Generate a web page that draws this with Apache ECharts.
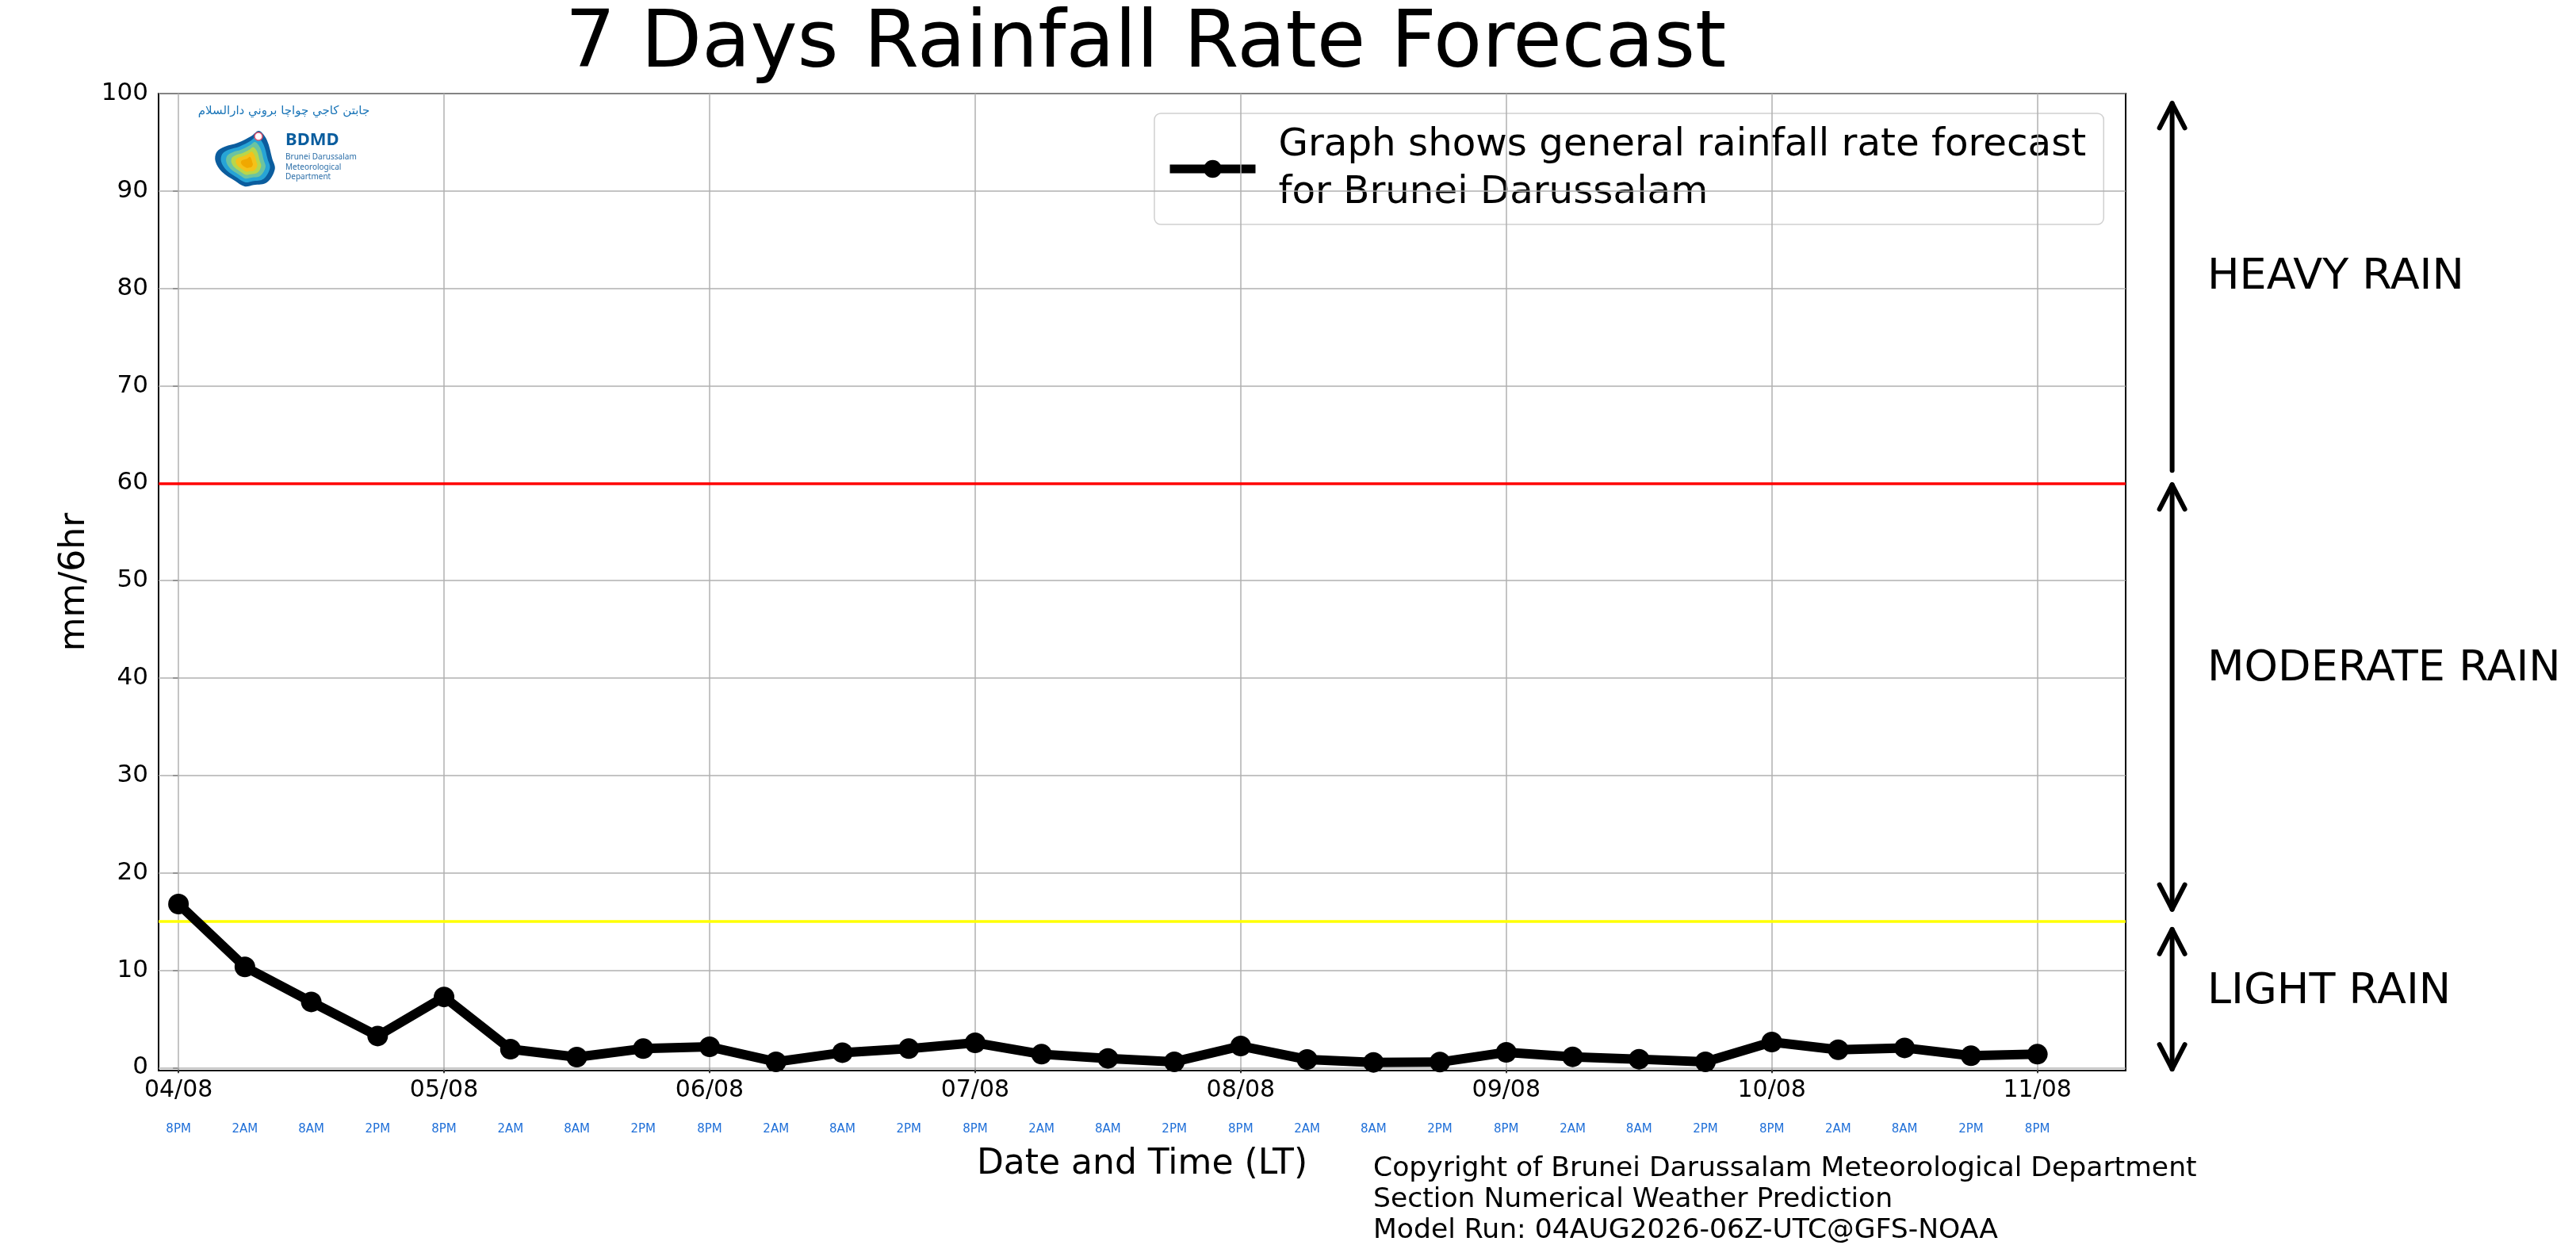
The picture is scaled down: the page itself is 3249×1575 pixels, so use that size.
<!DOCTYPE html>
<html>
<head>
<meta charset="utf-8">
<title>7 Days Rainfall Rate Forecast</title>
<script src="https://cdn.jsdelivr.net/npm/echarts@6/dist/echarts.min.js"></script>
<style>
  html, body { margin: 0; padding: 0; background: #fff; }
  #main { width: 3249px; height: 1575px; }
</style>
</head>
<body>
<div id="main"></div>
<script>
// 6-hourly steps, 04/08 8PM .. 11/08 8PM (local time)
var hourLabels = ['8PM', '2AM', '8AM', '2PM', '8PM', '2AM', '8AM', '2PM', '8PM', '2AM',
                  '8AM', '2PM', '8PM', '2AM', '8AM', '2PM', '8PM', '2AM', '8AM', '2PM',
                  '8PM', '2AM', '8AM', '2PM', '8PM', '2AM', '8AM', '2PM', '8PM'];
var dateLabels = ['04/08', '05/08', '06/08', '07/08', '08/08', '09/08', '10/08', '11/08'];
var dateSteps = [0, 4, 8, 12, 16, 20, 24, 28];
// mm/6hr
var rainfall = [16.8, 10.35, 6.75, 3.25, 7.26, 1.9, 1.08, 1.95, 2.14, 0.6,
                1.54, 1.95, 2.55, 1.38, 0.95, 0.6, 2.22, 0.84, 0.54, 0.57,
                1.57, 1.11, 0.87, 0.6, 2.63, 1.84, 2.03, 1.22, 1.38];
var yTicks = [0, 10, 20, 30, 40, 50, 60, 70, 80, 90, 100];
var lightLimit = 15;
var heavyLimit = 60;

var font = 'DejaVu Sans';
var seriesName = 'Graph shows general rainfall rate forecast\nfor Brunei Darussalam';

var chart = echarts.init(document.getElementById('main'));

var points = rainfall.map(function (v, i) { return [i, v]; });
var allSteps = hourLabels.map(function (h, i) { return i; });

var gridLines = yTicks.map(function (v) { return { yAxis: v }; })
    .concat(dateSteps.map(function (v) { return { xAxis: v }; }));

var option = {
    animation: false,
    backgroundColor: '#fff',
    title: {
        text: '7 Days Rainfall Rate Forecast',
        left: 1440,
        top: 3,
        textAlign: 'center',
        textStyle: { fontFamily: font, fontSize: 100, fontWeight: 'normal', color: '#000' }
    },
    legend: {
        data: [seriesName],
        left: 1456,
        top: 143,
        orient: 'vertical',
        itemWidth: 108,
        itemHeight: 28,
        padding: [10, 22, 10, 14],
        backgroundColor: 'rgba(255,255,255,0.8)',
        borderColor: '#d0d0d0',
        borderWidth: 1.5,
        borderRadius: 8,
        lineStyle: { width: 11, color: '#000' },
        itemStyle: { color: '#000' },
        textStyle: {
            fontFamily: font, fontSize: 48.3, lineHeight: 60, color: '#000',
            padding: [0, 0, 0, 24]
        }
    },
    grid: {
        left: 200, top: 118, right: 568, bottom: 225,
        show: true, borderColor: '#000', borderWidth: 2, backgroundColor: 'transparent'
    },
    xAxis: [{
        type: 'value',
        min: -0.3,
        max: 29.33,
        name: 'Date and Time (LT)',
        nameLocation: 'middle',
        nameGap: 97,
        nameTextStyle: { fontFamily: font, fontSize: 44, color: '#000' },
        axisLine: { show: false },
        axisTick: { show: true, customValues: dateSteps, length: 7, lineStyle: { color: '#000', width: 1.5 } },
        splitLine: { show: false },
        axisLabel: {
            customValues: dateSteps,
            margin: 10,
            fontFamily: font, fontSize: 30, color: '#000',
            formatter: function (v) { return dateLabels[dateSteps.indexOf(v)]; }
        }
    }, {
        type: 'value',
        min: -0.3,
        max: 29.33,
        position: 'bottom',
        axisLine: { show: false },
        axisTick: { show: false },
        splitLine: { show: false },
        axisLabel: {
            customValues: allSteps,
            margin: 67,
            fontFamily: font, fontSize: 15, color: '#1f6fd8',
            formatter: function (v) { return hourLabels[v]; }
        }
    }],
    yAxis: {
        type: 'value',
        min: -0.3,
        max: 100,
        name: 'mm/6hr',
        nameLocation: 'middle',
        nameGap: 78,
        nameTextStyle: { fontFamily: font, fontSize: 44, color: '#000' },
        axisLine: { show: false },
        axisTick: { show: true, customValues: yTicks, length: 7, lineStyle: { color: '#000', width: 1.5 } },
        splitLine: { show: false },
        axisLabel: {
            customValues: yTicks,
            margin: 13,
            fontFamily: font, fontSize: 31, color: '#000'
        }
    },
    series: [{
        name: 'grid',
        type: 'line',
        data: [],
        z: 1,
        silent: true,
        markLine: {
            silent: true,
            symbol: ['none', 'none'],
            label: { show: false },
            emphasis: { disabled: true },
            lineStyle: { color: '#b0b0b0', width: 1.5, type: 'solid' },
            data: gridLines
        }
    }, {
        name: 'limits',
        type: 'line',
        data: [],
        z: 2,
        silent: true,
        markLine: {
            silent: true,
            symbol: ['none', 'none'],
            label: { show: false },
            emphasis: { disabled: true },
            lineStyle: { width: 3.5, type: 'solid' },
            data: [
                { yAxis: heavyLimit, lineStyle: { color: '#ff0000' } },
                { yAxis: lightLimit, lineStyle: { color: '#ffff00' } }
            ]
        }
    }, {
        name: seriesName,
        type: 'line',
        data: points,
        z: 5,
        symbol: 'circle',
        symbolSize: 26,
        showAllSymbol: true,
        lineStyle: { color: '#000', width: 12 },
        itemStyle: { color: '#000' }
    }]
};

chart.setOption(option);

// rain class annotations to the right of the axes
var zoneNames = ['HEAVY RAIN', 'MODERATE RAIN', 'LIGHT RAIN'];
var zoneTextY = [81.1, 40.9, 7.8];
// [tip top, tip bottom, head at top, head at bottom]
var zoneArrows = [[99, 61.3, true, false], [59.85, 16.25, true, true], [14.2, -0.15, true, true]];
var arrowX = 30.03;
var textX = 30.56;

function px(x, y) {
    return chart.convertToPixel({ gridIndex: 0 }, [x, y]);
}

var graphics = [];
var ax = px(arrowX, 0)[0];
zoneArrows.forEach(function (a) {
    var top = px(arrowX, a[0])[1];
    var bot = px(arrowX, a[1])[1];
    var st = { stroke: '#000', lineWidth: 6, lineCap: 'round', lineJoin: 'round', fill: null };
    graphics.push({ type: 'line', shape: { x1: ax, y1: top, x2: ax, y2: bot }, style: st });
    if (a[2]) {
        graphics.push({ type: 'polyline', shape: { points: [[ax - 16, top + 31], [ax, top], [ax + 16, top + 31]] }, style: st });
    }
    if (a[3]) {
        graphics.push({ type: 'polyline', shape: { points: [[ax - 16, bot - 31], [ax, bot], [ax + 16, bot - 31]] }, style: st });
    }
});
zoneNames.forEach(function (name, i) {
    var p = px(textX, zoneTextY[i]);
    graphics.push({
        type: 'text', x: p[0], y: p[1],
        style: { text: name, fontFamily: font, fontSize: 54, fill: '#000', align: 'left', verticalAlign: 'middle' }
    });
});

// footer
graphics.push({
    type: 'text', x: 1732, y: 1455,
    style: {
        text: 'Copyright of Brunei Darussalam Meteorological Department\nSection Numerical Weather Prediction\nModel Run: 04AUG2026-06Z-UTC@GFS-NOAA',
        fontFamily: font, fontSize: 34.6, lineHeight: 39, fill: '#000', align: 'left', verticalAlign: 'top'
    }
});

// BDMD logo
var blob = [[326.7, 165], [336.7, 176.7], [343.3, 200], [346.7, 213.3], [336.7, 230], [320, 233.3],
            [308.3, 235], [296.7, 228.3], [280, 216.7], [271.7, 203.3], [273.3, 191.7], [283.3, 185],
            [300, 180], [316.7, 171.7]];
var blobColors = ['#0b5d9e', '#27a4d6', '#6cc3a0', '#b9d64a', '#f4c21a', '#f0a800'];
var blobScale = [1, 0.82, 0.66, 0.5, 0.36, 0.2];
var cx = 312, cy = 206;
blobColors.forEach(function (c, k) {
    var s = blobScale[k];
    graphics.push({
        type: 'polygon',
        shape: {
            smooth: 0.35,
            points: blob.map(function (p) { return [cx + (p[0] - cx) * s, cy + (p[1] - cy) * s]; })
        },
        style: { fill: c }
    });
});
graphics.push({ type: 'circle', shape: { cx: 326, cy: 172, r: 5 }, style: { fill: '#fff', stroke: '#e0506a', lineWidth: 1.5 } });
graphics.push({
    type: 'text', x: 358, y: 140,
    style: { text: 'جابتن كاجي چواچا بروني دارالسلام', fontFamily: font, fontSize: 15, fill: '#1a75b8', align: 'center', verticalAlign: 'middle' }
});
graphics.push({
    type: 'text', x: 360, y: 177,
    style: { text: 'BDMD', fontFamily: 'Noto Sans', fontWeight: 'bold', fontSize: 22, fill: '#0b5d9e', align: 'left', verticalAlign: 'middle' }
});
graphics.push({
    type: 'text', x: 360, y: 192,
    style: { text: 'Brunei Darussalam\nMeteorological\nDepartment', fontFamily: 'Noto Sans', fontSize: 10, lineHeight: 12.5, fill: '#2b6ea8', align: 'left', verticalAlign: 'top' }
});

chart.setOption({ graphic: graphics });
</script>
</body>
</html>
